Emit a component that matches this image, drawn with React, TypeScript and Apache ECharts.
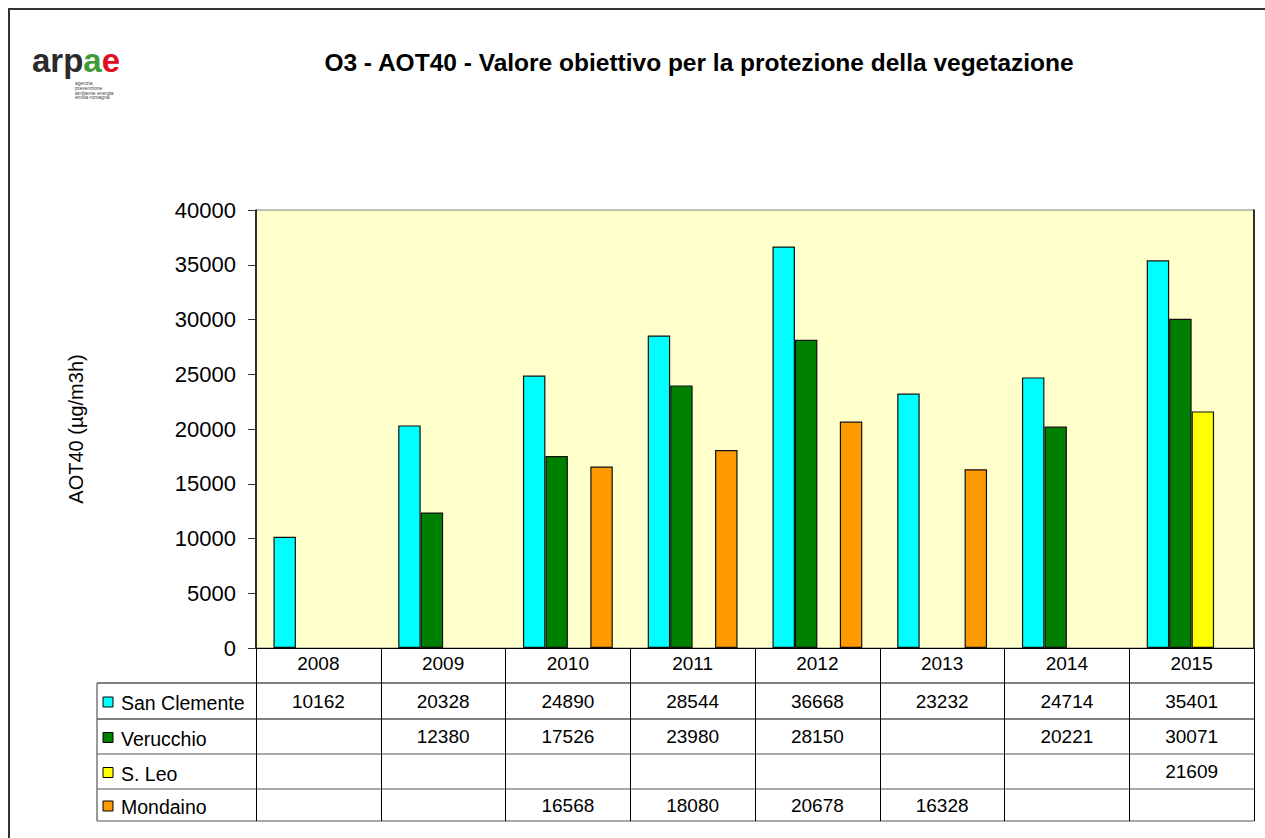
import React, { useEffect, useRef } from "react";
import * as echarts from "echarts";

const categories = ["2008", "2009", "2010", "2011", "2012", "2013", "2014", "2015"];
const seriesNames = ["San Clemente", "Verucchio", "S. Leo", "Mondaino"];
const sanClemente = [10162, 20328, 24890, 28544, 36668, 23232, 24714, 35401];
const verucchio = [null, 12380, 17526, 23980, 28150, null, 20221, 30071];
const sLeo = [null, null, null, null, null, null, null, 21609];
const mondaino = [null, null, 16568, 18080, 20678, 16328, null, null];
const seriesColors = ["#00FFFF", "#008000", "#FFFF00", "#FF9900"];
const titleText = "O3 - AOT40 - Valore obiettivo per la protezione della vegetazione";
const yAxisName = "AOT40 (µg/m3h)";

const FONT = "'Liberation Sans', Arial, sans-serif";

export default function App() {
  const ref = useRef<HTMLDivElement>(null);
  useEffect(() => {
    if (!ref.current) return;
    const chart = echarts.init(ref.current, undefined, { renderer: "svg" });
    const allData = [sanClemente, verucchio, sLeo, mondaino];
    const gridLeft = 256;
    const gridTop = 210;
    const gridRight = 1254;
    const gridBottom = 648;
    chart.setOption({
      animation: false,
      backgroundColor: "#ffffff",
      textStyle: { fontFamily: FONT },
      title: {
        text: titleText,
        left: 694,
        top: 45,
        textAlign: "center",
        textStyle: { fontSize: 24.5, fontWeight: "bold", color: "#000", fontFamily: FONT },
      },
      grid: {
        left: gridLeft,
        top: gridTop,
        width: gridRight - gridLeft,
        height: gridBottom - gridTop,
        show: true,
        backgroundColor: "#FFFFCC",
        borderColor: "#808080",
        borderWidth: 1,
      },
      xAxis: {
        type: "category",
        data: categories,
        axisLine: { show: true, lineStyle: { color: "#000", width: 1 } },
        axisTick: { show: true, length: 173, lineStyle: { color: "#000", width: 1 } },
        axisLabel: { fontSize: 19, color: "#000", margin: 6, fontFamily: FONT },
        splitLine: { show: false },
      },
      yAxis: [
        {
          type: "value",
          min: 0,
          max: 40000,
          interval: 5000,
          name: yAxisName,
          nameLocation: "middle",
          nameGap: 170,
          nameTextStyle: { fontSize: 20, color: "#000", fontFamily: FONT },
          axisLine: { show: true, lineStyle: { color: "#000", width: 1.5 } },
          axisTick: { show: true, length: 8, lineStyle: { color: "#333" } },
          axisLabel: {
            fontSize: 22,
            color: "#000",
            margin: 20,
            fontFamily: FONT,
            formatter: (v: number) => String(v),
          },
          splitLine: { show: false },
        },
        {
          type: "value",
          min: 0,
          max: 40000,
          interval: 5000,
          position: "right",
          axisLine: { show: true, lineStyle: { color: "#000", width: 1.5 } },
          axisTick: { show: false },
          axisLabel: { show: false },
          splitLine: { show: false },
        },
      ],
      series: seriesNames.map((name, i) => ({
        name,
        type: "bar",
        data: allData[i],
        barGap: "0%",
        barCategoryGap: "28%",
        itemStyle: { color: seriesColors[i], borderColor: "#111", borderWidth: 1.2 },
      })),
    });

    const rowLines = [683, 719, 754, 789, 821];
    const tableLeft = 97;
    const graphics: any[] = [];
    graphics.push({
      type: "rect",
      shape: { x: 9, y: 9, width: 1300, height: 900 },
      style: { fill: "none", stroke: "#333", lineWidth: 2 },
      silent: true,
    });
    // Logo
    const logoFont = "'Liberation Sans', Arial, sans-serif";
    graphics.push({
      type: "text",
      x: 32,
      y: 44,
      style: {
        text: "{k|arp}{g|a}{r|e}",
        rich: {
          k: { fill: "#2b2b2b", fontSize: 33, fontWeight: "bold", fontFamily: logoFont },
          g: { fill: "#3f9b35", fontSize: 33, fontWeight: "bold", fontFamily: logoFont },
          r: { fill: "#e30b1c", fontSize: 33, fontWeight: "bold", fontFamily: logoFont },
        },
        verticalAlign: "top",
      },
    });
    graphics.push({
      type: "text",
      x: 75,
      y: 81,
      style: {
        text: "agenzia\nprevenzione\nambiente energia\nemilia-romagna",
        fontSize: 5,
        lineHeight: 4.6,
        fill: "#444",
        fontFamily: FONT,
        verticalAlign: "top",
      },
    });
    // Table lines
    rowLines.forEach((y) => {
      graphics.push({
        type: "line",
        shape: { x1: tableLeft, y1: y, x2: gridRight, y2: y },
        style: { stroke: y > 740 ? "#555" : "#000", lineWidth: 1.2 },
      });
    });
    graphics.push({
      type: "line",
      shape: { x1: tableLeft, y1: rowLines[0], x2: tableLeft, y2: rowLines[rowLines.length - 1] },
      style: { stroke: "#555", lineWidth: 1.2 },
    });
    // Row labels and values
    seriesNames.forEach((name, r) => {
      const cy = (rowLines[r] + rowLines[r + 1]) / 2;
      graphics.push({
        type: "rect",
        shape: { x: 103, y: cy - 4, width: 10, height: 10 },
        style: { fill: seriesColors[r], stroke: "#000", lineWidth: 1 },
      });
      graphics.push({
        type: "text",
        x: 121,
        y: cy + 2,
        style: { text: name, fontSize: 19.5, fill: "#000", fontFamily: FONT, verticalAlign: "middle", align: "left" },
      });
      allData[r].forEach((v, c) => {
        if (v == null) return;
        const px = chart.convertToPixel({ xAxisIndex: 0 }, c) as number;
        graphics.push({
          type: "text",
          x: px,
          y: cy,
          style: { text: String(v), fontSize: 19, fill: "#000", fontFamily: FONT, align: "center", verticalAlign: "middle" },
        });
      });
    });
    chart.setOption({ graphic: graphics });
    return () => chart.dispose();
  }, []);
  return (
    <div
      ref={ref}
      style={{ position: "absolute", left: 0, top: 0, width: 1265, height: 838 }}
    />
  );
}
